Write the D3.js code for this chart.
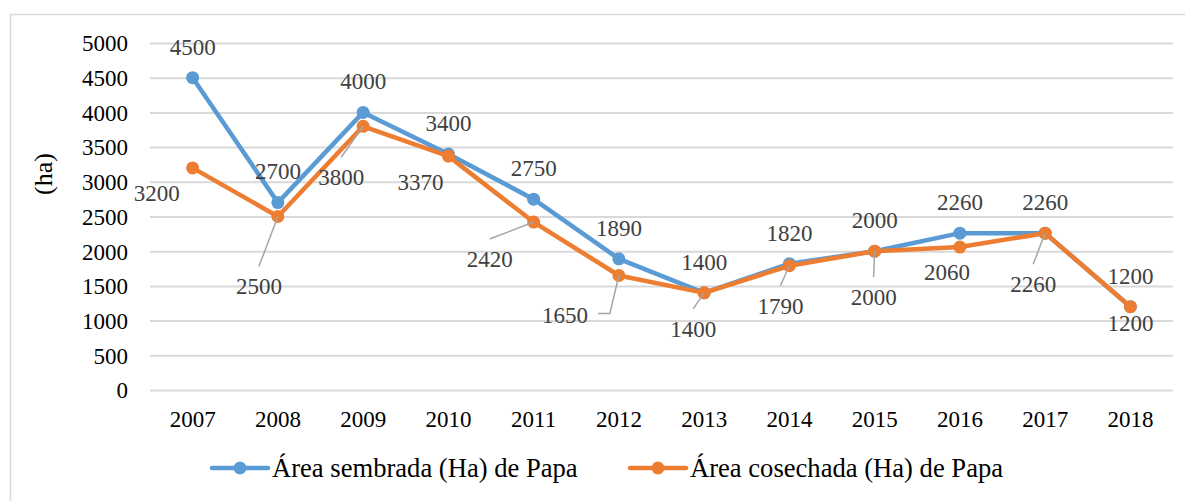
<!DOCTYPE html>
<html>
<head>
<meta charset="utf-8">
<script src="https://cdn.jsdelivr.net/npm/d3@7"></script>
<style>
  html, body { margin: 0; padding: 0; background: #fff; }
  svg { display: block; }
</style>
</head>
<body>
<svg id="chart" width="1185" height="501"></svg>
<script>
const years = ["2007","2008","2009","2010","2011","2012","2013","2014","2015","2016","2017","2018"];
const sembrada = [4500, 2700, 4000, 3400, 2750, 1890, 1400, 1820, 2000, 2260, 2260, 1200];
const cosechada = [3200, 2500, 3800, 3370, 2420, 1650, 1400, 1790, 2000, 2060, 2260, 1200];
const yTicks = [0, 500, 1000, 1500, 2000, 2500, 3000, 3500, 4000, 4500, 5000];
const seriesNames = ["Área sembrada (Ha) de Papa", "Área cosechada (Ha) de Papa"];
const yTitle = "(ha)";

// label layout for the harvested series (offsets from the point, in px)
const cosLabelDx = [-36, -19, -22, -28, -44, -54, -11, -9, -1, -13, -12, 0];
const cosLabelDy = [25, 70, 51, 26, 37, 40, 36, 40, 46, 25, 51, 16];
const cosLeader = ["", "top", "top", "", "top", "side", "top", "top", "top", "", "top", ""];

const W = 1185, H = 501;
const plotL = 150, plotR = 1173, plotT = 43, plotB = 390;
const colors = ["#5B9BD5", "#ED7D31"];
const font = "'Liberation Serif', 'Times New Roman', serif";

const svg = d3.select("#chart");

svg.append("rect")
  .attr("x", 10.5).attr("y", 14.5)
  .attr("width", W + 10).attr("height", H + 10)
  .attr("fill", "#fff").attr("stroke", "#D9D9D9").attr("stroke-width", 1.5);

const x = d3.scaleBand().domain(years).range([plotL, plotR]).padding(0);
const y = d3.scaleLinear().domain([0, 5000]).range([plotB, plotT]);
const cx = d => x(d) + x.bandwidth() / 2;

// Y axis with gridlines
const yAxis = svg.append("g")
  .attr("transform", `translate(${plotL},0)`)
  .call(d3.axisLeft(y).tickValues(yTicks).tickFormat(d3.format("d"))
    .tickSize(-(plotR - plotL)).tickPadding(22));
yAxis.select(".domain").remove();
yAxis.selectAll(".tick line").attr("stroke", "#D9D9D9").attr("stroke-width", 2);
yAxis.selectAll(".tick text")
  .attr("font-family", font).attr("font-size", 23).attr("fill", "#000")
  .attr("dy", "0.34em");

// X axis
const xAxis = svg.append("g")
  .attr("transform", `translate(0,${plotB})`)
  .call(d3.axisBottom(x).tickSize(0));
xAxis.select(".domain").remove();
xAxis.selectAll(".tick text")
  .attr("font-family", font).attr("font-size", 23).attr("fill", "#000")
  .attr("y", 29).attr("dy", "0.34em");

// Y title
svg.append("text")
  .attr("transform", "translate(43,174) rotate(-90)")
  .attr("text-anchor", "middle").attr("dy", "0.34em")
  .attr("font-family", font).attr("font-size", 26).attr("fill", "#000")
  .text(yTitle);

const seriesData = [sembrada, cosechada];
const line = d3.line().x((d, i) => cx(years[i])).y(d => y(d));

seriesData.forEach((vals, s) => {
  svg.append("path")
    .datum(vals)
    .attr("d", line)
    .attr("fill", "none")
    .attr("stroke", colors[s])
    .attr("stroke-width", 4.5)
    .attr("stroke-linejoin", "round")
    .attr("stroke-linecap", "round");
  svg.append("g").selectAll("circle")
    .data(vals).join("circle")
    .attr("cx", (d, i) => cx(years[i]))
    .attr("cy", d => y(d))
    .attr("r", 6.5)
    .attr("fill", colors[s]);
});

// leader lines for harvested series
const leaders = svg.append("g");
cosechada.forEach((v, i) => {
  const px = cx(years[i]), py = y(v);
  const lx = px + cosLabelDx[i], ly = py + cosLabelDy[i];
  if (cosLeader[i] === "top") {
    leaders.append("line")
      .attr("x1", px).attr("y1", py).attr("x2", lx).attr("y2", ly - 20)
      .attr("stroke", "#A6A6A6").attr("stroke-width", 1.5);
  } else if (cosLeader[i] === "side") {
    leaders.append("polyline")
      .attr("points", `${px},${py} ${px - 9},${ly - 2} ${lx + 33},${ly - 2}`)
      .attr("fill", "none")
      .attr("stroke", "#A6A6A6").attr("stroke-width", 1.5);
  }
});

// data labels
const labelColor = "#404040";
svg.append("g").selectAll("text")
  .data(sembrada).join("text")
  .attr("x", (d, i) => cx(years[i]))
  .attr("y", d => y(d) - 31)
  .attr("dy", "0.34em")
  .attr("text-anchor", "middle")
  .attr("font-family", font).attr("font-size", 23).attr("fill", labelColor)
  .text(d => d);

svg.append("g").selectAll("text")
  .data(cosechada).join("text")
  .attr("x", (d, i) => cx(years[i]) + cosLabelDx[i])
  .attr("y", (d, i) => y(d) + cosLabelDy[i])
  .attr("dy", "0.34em")
  .attr("text-anchor", "middle")
  .attr("font-family", font).attr("font-size", 23).attr("fill", labelColor)
  .text(d => d);

// legend
const legendX = [212, 630];
const legend = svg.append("g");
seriesNames.forEach((name, s) => {
  const lx = legendX[s], ly = 468;
  legend.append("line")
    .attr("x1", lx).attr("x2", lx + 56).attr("y1", ly).attr("y2", ly)
    .attr("stroke", colors[s]).attr("stroke-width", 4.5).attr("stroke-linecap", "round");
  legend.append("circle")
    .attr("cx", lx + 28).attr("cy", ly).attr("r", 6.5).attr("fill", colors[s]);
  legend.append("text")
    .attr("x", lx + 60).attr("y", ly).attr("dy", "0.34em")
    .attr("font-family", font).attr("font-size", 26.6).attr("fill", "#000")
    .text(name);
});
</script>
</body>
</html>
